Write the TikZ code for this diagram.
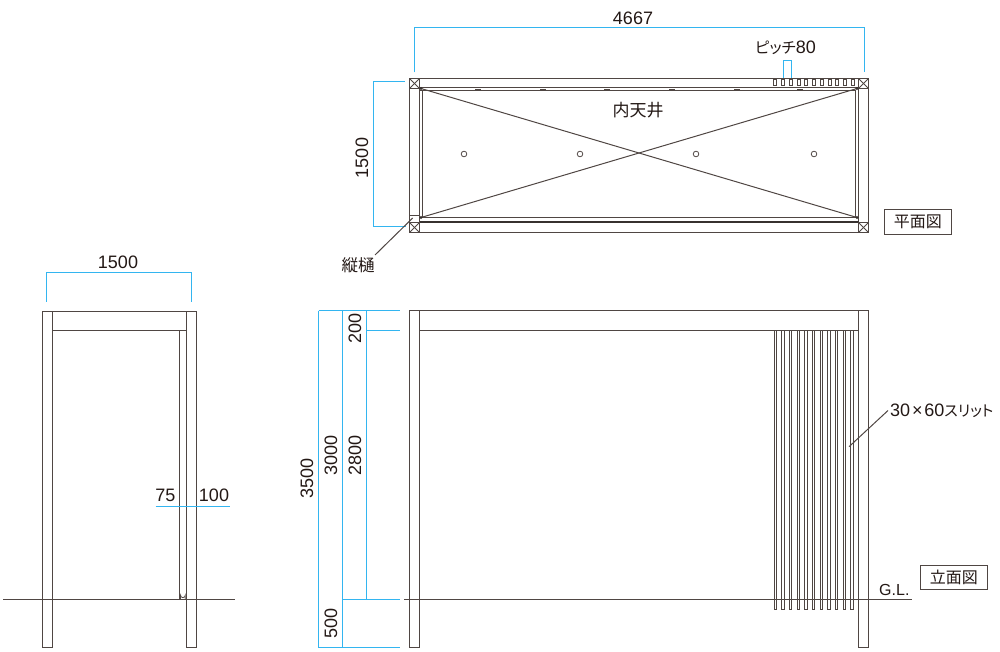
\documentclass[tikz,border=0pt]{standalone}
\usepackage{fontspec}
\usepackage{tikz}
\usetikzlibrary{positioning,calc}
\setmainfont{Liberation Sans}
\newfontfamily\jpfont[RawFeature=+palt]{Noto Sans CJK JP}
\definecolor{inkline}{HTML}{4F4643}
\definecolor{inktext}{HTML}{231815}
\definecolor{dimblue}{HTML}{33B5F0}
\tikzstyle{wall} = [draw=inkline, line width=1pt]
\tikzstyle{thin} = [draw=inkline, line width=0.8pt]
\tikzstyle{heavy} = [draw=inkline!70!black, line width=1.8pt]
\tikzstyle{dim} = [draw=dimblue, line width=1.5pt]
\tikzstyle{label} = [inner sep=0pt, text=inktext, font=\fontsize{18}{20}\selectfont]
\tikzstyle{jplabel} = [inner sep=0pt, text=inktext, font=\fontsize{16.5}{20}\selectfont\jpfont]
\tikzstyle{tag} = [draw=inkline, line width=1pt, fill=white, minimum width=67pt, minimum height=24.5pt,
    inner sep=0pt, text=inktext, font=\fontsize{16}{20}\selectfont\jpfont]

\begin{document}
\begin{tikzpicture}[x=1pt, y=-1pt]
    \useasboundingbox (0,0) rectangle (1000,652);

    % plan
    \draw [wall] (409.5,78.5) rectangle (868.5,232.5);
    \draw [wall] (419.5,87.5) rectangle (858.5,222.5);
    \draw [thin] (422.5,90.5) rectangle (855.5,217.5);
    \draw [wall] (419.5,90.5) -- (855.5,90.5);
    \draw [heavy] (419.5,222) -- (858.5,222);
    \draw [thin] (409.5,215.5) -- (419.5,215.5);
    \foreach \x/\y in {409.5/78.5, 858.5/78.5, 409.5/222.5, 858.5/222.5} {
        \draw [thin] (\x,\y) rectangle +(10,10);
        \draw [thin] (\x,\y) -- +(10,10);
        \draw [thin] (\x,\y+10) -- +(10,-10);
    }
    \foreach \x in {478,543,607,672,737,800}
        \draw [wall] (\x-3,89.5) -- (\x+3,89.5);
    \foreach \i in {0,...,10}
        \draw [thin] (773.6+\i*7.78,79) rectangle +(3,6.5);
    \coordinate (dg_tl) at (421,88.5);
    \coordinate (dg_tr) at (857,88.5);
    \coordinate (dg_bl) at (421,217.5);
    \coordinate (dg_br) at (857,217.5);
    \draw [wall] (dg_tl) -- (dg_br);
    \draw [wall] (dg_bl) -- (dg_tr);
    \foreach \c in {dg_tl,dg_tr,dg_bl,dg_br}
        \fill [inkline!70!black] (\c) circle (1.6);
    \foreach \x in {464,580,696,814}
        \draw [thin] (\x,154) circle (2.8);

    \node [jplabel, font=\fontsize{17}{20}\selectfont\jpfont] (ceil) at (638,110) {内天井};
    \node [tag] (plan_tag) at (917.8,222.2) {平面図};

    % plan dimensions
    \draw [dim] (414.5,72.5) -- (414.5,27.5) -- (864.5,27.5) -- (864.5,72.5);
    \node [label] (plan_w) at (633,18) {4667};
    \draw [dim] (405,81.5) -- (373.5,81.5) -- (373.5,226.5) -- (406,226.5);
    \node [label, rotate=90] (plan_d) at (362,158) {1500};
    \draw [dim] (783.5,78) -- (783.5,60.5) -- (791.5,60.5) -- (791.5,78);
    \node [jplabel, font=\fontsize{15.5}{20}\selectfont\jpfont] (pitch) at (785.5,47.5) {ピッチ{\fontsize{18}{20}\selectfont\rmfamily 80}};
    \node [jplabel, anchor=north] (gutter) at (358,257.5) {縦樋};
    \coordinate (gutter_pt) at (412.7,218);
    \draw [wall] (375,255) -- (gutter_pt);

    % section
    \draw [wall] (42.5,311.5) rectangle (52.5,647.5);
    \draw [wall] (186.5,311.5) rectangle (196.5,647.5);
    \draw [wall] (42.5,311.5) -- (196.5,311.5);
    \draw [thin] (52.5,330.5) -- (186.5,330.5);
    \draw [wall] (179.5,330.5) -- (179.5,599.5);
    \draw [thin] (180.5,599.5) -- (180.5,595.2) arc (180:0:2.4) -- (185.3,599.5);
    \draw [wall] (3.3,599.5) -- (235,599.5);
    \draw [dim] (46.5,301.5) -- (46.5,272.5) -- (191.5,272.5) -- (191.5,301.5);
    \node [label] (sec_w) at (118,262) {1500};
    \draw [dim] (155.7,506.5) -- (229.7,506.5);
    \node [label] (sec_a) at (165.5,495) {75};
    \node [label] (sec_b) at (214,495) {100};

    % elevation
    \draw [wall] (409.5,310.5) rectangle (419.5,647.5);
    \draw [wall] (858.5,310.5) rectangle (868.5,647.5);
    \draw [wall] (409.5,310.5) -- (868.5,310.5);
    \draw [thin] (419.5,330.5) -- (858.5,330.5);
    \foreach \i in {0,...,10}
        \draw [thin] (774+\i*7.67,330.5) -- (774+\i*7.67,609.3) -- (776.5+\i*7.67,609.3) -- (776.5+\i*7.67,330.5);
    \coordinate (gl_start) at (404,599.5);
    \coordinate (gl_end) at (911.7,599.5);
    \draw [wall] (gl_start) -- (gl_end);
    \node [label, anchor=base west, font=\fontsize{16}{20}\selectfont] (gl) at (879,595.7) {G.L.};
    \node [tag] (elev_tag) at (953.8,577.7) {立面図};
    \node [label, anchor=west] (slit) at (890,410.5) {30\hspace{1.8pt}×\hspace{1.8pt}60{\fontsize{15}{20}\selectfont\jpfont スリット}};
    \coordinate (slit_pt) at (849,446.7);
    \draw [wall] (slit_pt) -- (888,410.5);

    % elevation dimensions
    \draw [dim] (318.5,310.5) -- (400,310.5);
    \draw [dim] (366.5,330.5) -- (400,330.5);
    \draw [dim] (342.5,599.5) -- (400,599.5);
    \draw [dim] (318.5,647.5) -- (400,647.5);
    \draw [dim] (318.5,310.5) -- (318.5,647.5);
    \draw [dim] (342.5,310.5) -- (342.5,647.5);
    \draw [dim] (366.5,310.5) -- (366.5,599.5);
    \node [label, rotate=90] (h_200) at (355,328) {200};
    \node [label, rotate=90] (h_2800) at (355,455) {2800};
    \node [label, rotate=90] (h_3000) at (331,455) {3000};
    \node [label, rotate=90] (h_3500) at (307,478) {3500};
    \node [label, rotate=90] (h_500) at (331,623) {500};
\end{tikzpicture}
\end{document}
